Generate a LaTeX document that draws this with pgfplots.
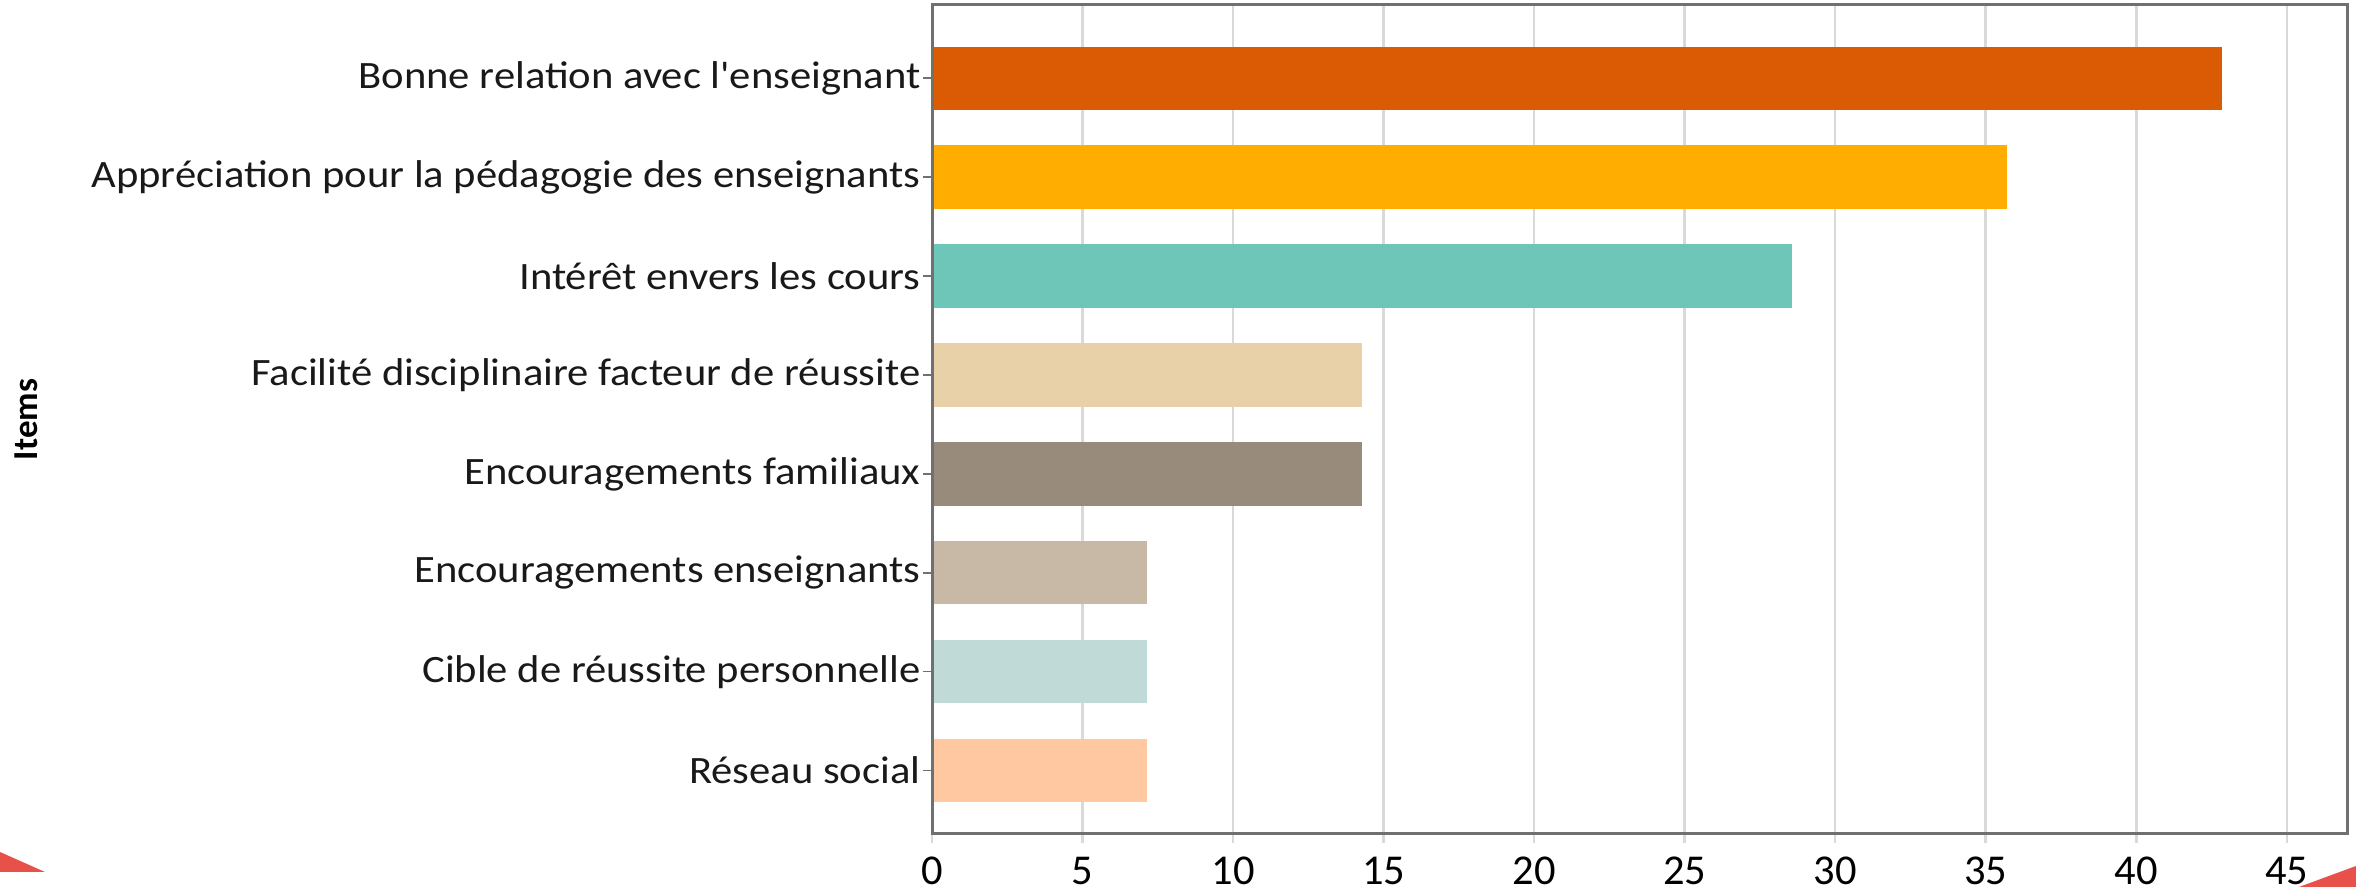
\documentclass[border=0pt]{standalone}
\usepackage{pgfplots}
\pgfplotsset{compat=1.18}
\usepackage{fontspec}
\setmainfont{Carlito}
\newfontfamily\carlito{Carlito}
\newfontfamily\labfont[FakeStretch=1.1]{Carlito}
\definecolor{c1}{HTML}{DB5B04}
\definecolor{c2}{HTML}{FFAD00}
\definecolor{c3}{HTML}{6EC6B8}
\definecolor{c4}{HTML}{E8D0A9}
\definecolor{c5}{HTML}{988B7C}
\definecolor{c6}{HTML}{C7B9A6}
\definecolor{c7}{HTML}{C0DBD7}
\definecolor{c8}{HTML}{FFC8A0}
\definecolor{gridc}{HTML}{D9D9D9}
\definecolor{axc}{HTML}{707070}
\definecolor{redtri}{HTML}{E8504A}
\begin{document}
\begin{tikzpicture}[x=1pt,y=1pt]
\useasboundingbox (0,0) rectangle (942.4,354.8);
\clip (0,0) rectangle (942.4,354.8);
\begin{axis}[
  at={(372.8pt,21.2pt)}, anchor=south west,
  scale only axis, width=566pt, height=331.6pt,
  xmin=0, xmax=47, ymin=-0.64, ymax=7.74,
  xbar, bar shift=0pt, bar width=0.64,
  xtick={0,5,...,45},
  ytick={0,...,7},
  xtick pos=bottom, ytick pos=left,
  yticklabels={R\'eseau social, Cible de r\'eussite personnelle, Encouragements enseignants, Encouragements familiaux, Facilit\'e disciplinaire facteur de r\'eussite, Int\'er\^et envers les cours, Appr\'eciation pour la p\'edagogie des enseignants, Bonne relation avec l{\char39}enseignant},
  yticklabel style={font=\labfont\fontsize{15.5}{18}\selectfont, text=black!90, xshift=2.5pt},
  xticklabel style={font=\carlito\fontsize{17}{20}\selectfont, text=black, yshift=-2pt},
  /pgf/number format/assume math mode=true,
  xmajorgrids, grid style={gridc, line width=1pt},
  tick align=outside, major tick length=3.6pt,
  xtick style={gridc, line width=1pt},
  ytick style={axc, line width=0.6pt},
  axis line style={axc, line width=1.2pt},
  ylabel={Items},
  ylabel style={font=\carlito\bfseries\fontsize{14}{16}\selectfont, at={(axis description cs:-0.64,0.5)}, anchor=center},
]
\addplot[fill=c1, draw=none] coordinates {(42.86,7)};
\addplot[fill=c2, draw=none] coordinates {(35.71,6)};
\addplot[fill=c3, draw=none] coordinates {(28.57,5)};
\addplot[fill=c4, draw=none] coordinates {(14.29,4)};
\addplot[fill=c5, draw=none] coordinates {(14.29,3)};
\addplot[fill=c6, draw=none] coordinates {(7.14,2)};
\addplot[fill=c7, draw=none] coordinates {(7.14,1)};
\addplot[fill=c8, draw=none] coordinates {(7.14,0)};
\draw[axc, line width=1.2pt] (axis cs:0,-0.64) -- (axis cs:0,7.74);
\end{axis}
\fill[redtri] (0,14) -- (0,6) -- (18,6) -- cycle;
\fill[redtri] (919.6,0) -- (942.4,8.4) -- (942.4,0) -- cycle;
\end{tikzpicture}
\end{document}
